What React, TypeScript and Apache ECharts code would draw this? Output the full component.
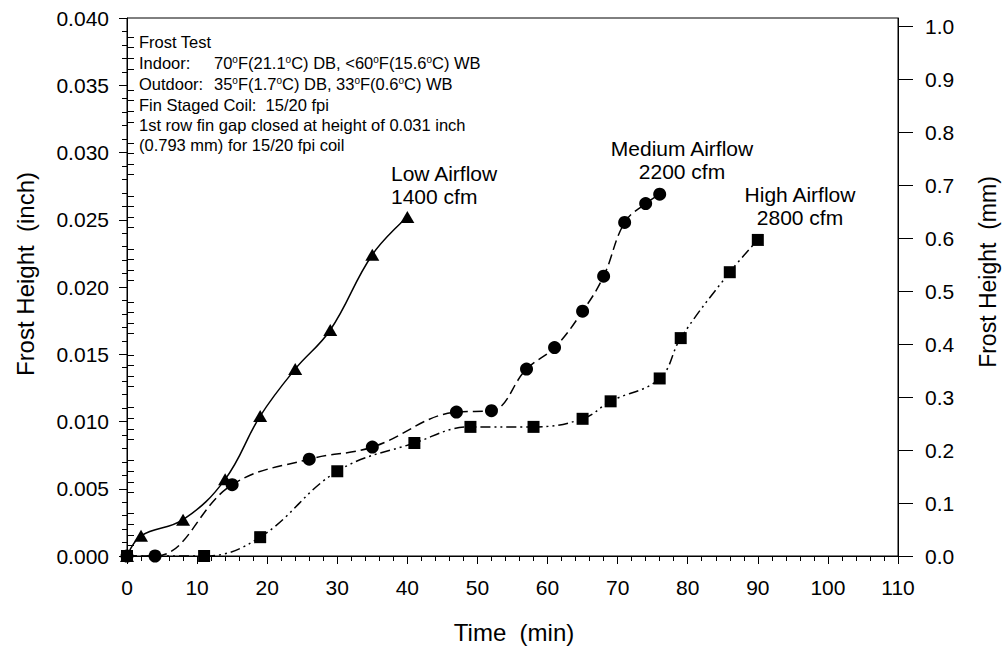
import React, { useEffect, useRef } from "react";
import * as echarts from "echarts";

const FONT = "'Liberation Sans', Arial, Helvetica, sans-serif";

// Frost growth measurements: time (min) vs. frost height (inch)
const timeLow = [0, 2, 8, 14, 19, 24, 29, 35, 40];
const frostLow = [0, 0.0015, 0.0027, 0.0057, 0.0104, 0.0139, 0.0168, 0.0224, 0.0252];

const timeMedium = [0, 4, 15, 26, 35, 47, 52, 57, 61, 65, 68, 71, 74, 76];
const frostMedium = [
  0, 0, 0.0053, 0.0072, 0.0081, 0.0107, 0.0108, 0.0139, 0.0155, 0.0182, 0.0208, 0.0248,
  0.0262, 0.0269,
];

const timeHigh = [0, 11, 19, 30, 41, 49, 58, 65, 69, 76, 79, 86, 90];
const frostHigh = [
  0, 0, 0.0014, 0.0063, 0.0084, 0.0096, 0.0096, 0.0102, 0.0115, 0.0132, 0.0162, 0.0211,
  0.0235,
];

// Axis ranges and tick labels
const timeMax = 110;
const timeStep = 10;
const inchMax = 0.04;
const inchStep = 0.005;
const INCH_TO_MM = 25.4;
const mmTicks = [0, 0.1, 0.2, 0.3, 0.4, 0.5, 0.6, 0.7, 0.8, 0.9, 1.0];
const mmMinorTicks: number[] = [];
for (let i = 0; i < mmTicks.length - 1; i++) {
  for (let k = 1; k < 5; k++) {
    mmMinorTicks.push(+(mmTicks[i] + ((mmTicks[i + 1] - mmTicks[i]) * k) / 5).toFixed(3));
  }
}

const notes = [
  "Frost Test",
  "Fin Staged Coil:  15/20 fpi",
  "1st row fin gap closed at height of 0.031 inch",
  "(0.793 mm) for 15/20 fpi coil",
];

const pair = (xs: number[], ys: number[]) => xs.map((x, i) => [x, ys[i]]);

const black = "#000";

function textEl(x: number, y: number, text: string, fontSize: number, align = "left", extra: any = {}) {
  return {
    type: "text",
    x,
    y,
    z: 100,
    style: {
      text,
      fill: black,
      fontSize,
      fontFamily: FONT,
      align,
      verticalAlign: "middle",
      ...extra,
    },
  };
}

const supRich = {
  s: { fontSize: 10, fontFamily: FONT, fill: black, verticalAlign: "top", lineHeight: 18 },
};

export default function App() {
  const ref = useRef<HTMLDivElement>(null);

  useEffect(() => {
    if (!ref.current) return;
    const chart = echarts.init(ref.current, undefined, { renderer: "svg" });

    const lineSeries = (
      name: string,
      data: number[][],
      symbol: string,
      symbolSize: any,
      type: any
    ) => ({
      name,
      type: "line",
      data,
      xAxisIndex: 0,
      yAxisIndex: 0,
      symbol,
      symbolSize,
      smooth: 0.4,
      showAllSymbol: true,
      lineStyle: { color: black, width: 1.5, type },
      itemStyle: { color: black, borderWidth: 0 },
      emphasis: { disabled: true },
    });

    chart.setOption({
      animation: false,
      backgroundColor: "#fff",
      textStyle: { fontFamily: FONT },
      grid: {
        left: 127,
        right: 105,
        top: 18,
        bottom: 92,
        show: true,
        borderColor: black,
        borderWidth: 1,
        backgroundColor: "transparent",
      },
      xAxis: {
        type: "value",
        min: 0,
        max: timeMax,
        interval: timeStep,
        axisLine: { show: true, onZero: false, lineStyle: { color: black, width: 1 } },
        axisTick: { show: true, length: 8, lineStyle: { color: black, width: 1 } },
        minorTick: { show: true, splitNumber: 5, length: 5, lineStyle: { color: black, width: 1 } },
        axisLabel: { fontSize: 21, color: black, fontFamily: FONT, margin: 21 },
        splitLine: { show: false },
        minorSplitLine: { show: false },
      },
      yAxis: [
        {
          type: "value",
          position: "left",
          min: 0,
          max: inchMax,
          interval: inchStep,
          axisLine: { show: true, onZero: false, lineStyle: { color: black, width: 1 } },
          axisTick: { show: true, length: 8, lineStyle: { color: black, width: 1 } },
          minorTick: { show: true, splitNumber: 5, length: 5, lineStyle: { color: black, width: 1 } },
          axisLabel: {
            fontSize: 21,
            color: black,
            fontFamily: FONT,
            margin: 18,
            formatter: (v: number) => v.toFixed(3),
          },
          splitLine: { show: false },
          minorSplitLine: { show: false },
        },
        {
          type: "value",
          position: "right",
          min: 0,
          max: inchMax * INCH_TO_MM,
          axisLine: { show: true, onZero: false, lineStyle: { color: black, width: 1 } },
          axisTick: {
            show: true,
            length: 15,
            customValues: mmTicks,
            lineStyle: { color: black, width: 1 },
          },
          axisLabel: {
            fontSize: 21,
            color: black,
            fontFamily: FONT,
            margin: 27,
            customValues: mmTicks,
            formatter: (v: number) => v.toFixed(1),
          },
          splitLine: { show: false },
        },
        {
          type: "value",
          position: "right",
          min: 0,
          max: inchMax * INCH_TO_MM,
          axisLine: { show: false },
          axisTick: {
            show: true,
            length: 7,
            customValues: mmMinorTicks,
            lineStyle: { color: black, width: 1 },
          },
          axisLabel: { show: false },
          splitLine: { show: false },
        },
      ],
      series: [
        lineSeries("Low Airflow", pair(timeLow, frostLow), "triangle", [14, 12], "solid"),
        lineSeries("High Airflow", pair(timeHigh, frostHigh), "rect", 12, [10, 4, 2, 4, 2, 4]),
        lineSeries("Medium Airflow", pair(timeMedium, frostMedium), "circle", 13, [10, 5]),
      ],
      graphic: [
        textEl(139, 42, notes[0], 16.5),
        textEl(139, 63, "Indoor:", 16.5),
        textEl(214, 63, "70{s|o}F(21.1{s|o}C) DB, <60{s|o}F(15.6{s|o}C) WB", 16.5, "left", {
          rich: supRich,
        }),
        textEl(139, 84, "Outdoor:", 16.5),
        textEl(214, 84, "35{s|o}F(1.7{s|o}C) DB, 33{s|o}F(0.6{s|o}C) WB", 16.5, "left", {
          rich: supRich,
        }),
        textEl(139, 105, notes[1], 16.5),
        textEl(139, 125, notes[2], 16.5),
        textEl(139, 145, notes[3], 16.5),

        textEl(391, 173, "Low Airflow", 21),
        textEl(391, 196, "1400 cfm", 21),
        textEl(682, 148, "Medium Airflow", 21, "center"),
        textEl(682, 171, "2200 cfm", 21, "center"),
        textEl(800, 194, "High Airflow", 21, "center"),
        textEl(800, 217, "2800 cfm", 21, "center"),

        textEl(514, 632, "Time  (min)", 24, "center"),
        { ...textEl(25, 274, "Frost Height  (inch)", 24, "center"), rotation: Math.PI / 2 },
        { ...textEl(988, 272, "Frost Height  (mm)", 23, "center"), rotation: Math.PI / 2 },
      ],
    });

    return () => chart.dispose();
  }, []);

  return (
    <div
      ref={ref}
      style={{ position: "fixed", left: 0, top: 0, width: 1003, height: 648, background: "#fff" }}
    />
  );
}
